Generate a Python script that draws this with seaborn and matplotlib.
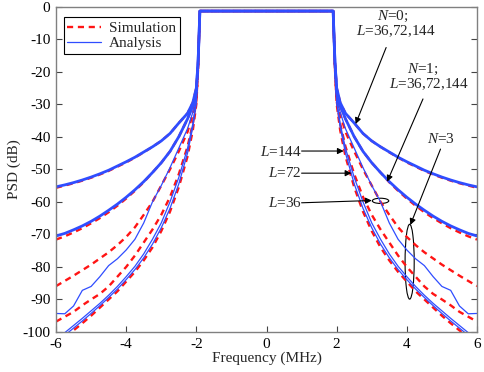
import numpy as np
import pandas as pd
import matplotlib
matplotlib.use("Agg")
import matplotlib.pyplot as plt
from matplotlib.lines import Line2D
from matplotlib.patches import Ellipse
import seaborn as sns

# ---------------- data (|f| side, mirrored) ----------------
freq_pos = [1.90, 1.92, 1.95, 2.0, 2.1, 2.25, 2.5, 2.75, 3.0, 3.25, 3.5,
            3.75, 4.0, 4.25, 4.5, 4.75, 5.0, 5.25, 5.5, 5.75, 6.0]

n0_sim = [-1.4, -8, -17, -25, -29.5, -32.8, -35.8, -39, -41.3, -43.1, -44.8,
          -46.4, -47.9, -49.2, -50.5, -51.6, -52.6, -53.5, -54.3, -55.0, -55.7]
n0_ana = [-1.4, -8, -17, -25, -29.5, -32.8, -35.8, -39, -41.3, -43.1, -44.7,
          -46.3, -47.7, -49.0, -50.3, -51.4, -52.4, -53.3, -54.1, -54.8, -55.4]
n1_sim = [-1.4, -8, -17, -26, -30.5, -34.5, -40, -44.5, -48, -51, -54.0,
          -56.6, -59.0, -61.2, -63.2, -65.0, -66.6, -68.1, -69.4, -70.6, -71.6]
n1_ana = [-1.4, -8, -17, -26, -30.5, -34.5, -40, -44.5, -48, -51, -53.8,
          -56.3, -58.6, -60.7, -62.6, -64.4, -66.0, -67.4, -68.6, -69.7, -70.5]
n3_l36_sim = [-1.4, -8, -18, -28, -33, -38.5, -44.5, -50, -55, -60, -64,
              -67.8, -70.8, -73.3, -75.5, -77.4, -79.3, -81.0, -82.7, -84.3, -85.9]
n3_l36_ana = [-1.4, -8, -18, -28, -32.5, -37.5, -43.5, -49.5, -55, -60, -66.5,
              -71.5, -74.8, -77.5, -79.6, -83.0, -86.0, -87.2, -92.0, -94.4, -94.3]
n3_l72_sim = [-1.4, -8, -19, -29, -36, -43, -51.5, -58.5, -64, -68.5, -72.5,
              -76.5, -80.0, -83.0, -86.0, -88.3, -90.0, -91.8, -93.8, -95.3, -96.8]
n3_l72_ana = [-1.4, -8, -18, -29, -36, -43.5, -52.5, -60, -66.5, -71.5, -76,
              -79.8, -83.0, -86.0, -88.7, -91.2, -93.5, -95.8, -98.0, -100.2, -102]
n3_l144_sim = [-1.4, -8, -19, -30, -38, -46, -55.5, -63, -69, -74, -78,
               -81.5, -84.5, -87.5, -90.0, -92.5, -95.0, -97.3, -99.5, -101.5, -103]
n3_l144_ana = [-1.4, -8, -18, -29.5, -37, -45, -54.5, -62, -68, -73, -77.2,
               -80.8, -83.9, -86.8, -89.4, -91.9, -94.3, -96.6, -98.8, -101, -103]

x_ticks = [-6, -4, -2, 0, 2, 4, 6]
y_ticks = [0, -10, -20, -30, -40, -50, -60, -70, -80, -90, -100]

sim_curves = [n0_sim, n1_sim, n3_l36_sim, n3_l72_sim, n3_l144_sim]
ana_curves = [n0_ana, n1_ana, n3_l36_ana, n3_l72_ana, n3_l144_ana]
ana_widths = [2.0, 2.0, 0.9, 0.9, 0.9]


def full_curve(vals):
    fp = np.array(freq_pos)
    v = np.array(vals, dtype=float)
    f = np.concatenate([-fp[::-1], fp])
    y = np.concatenate([v[::-1], v])
    return f, y


# ---------------- style ----------------
sns.set_theme(style="white")
plt.rcParams["font.family"] = ["Liberation Serif", "DejaVu Serif"]
plt.rcParams["mathtext.fontset"] = "custom"
plt.rcParams["mathtext.rm"] = "Liberation Serif"
plt.rcParams["mathtext.it"] = "Liberation Serif:italic"
plt.rcParams["axes.unicode_minus"] = False

RED = "#ff1414"
BLUE = "#2f4dff"
FS = 11

fig = plt.figure(figsize=(4.85, 3.72), dpi=100)
ax = fig.add_axes([0.1155, 0.1075, 0.868, 0.8750])

for vals in sim_curves:
    f, y = full_curve(vals)
    sns.lineplot(x=f, y=y, ax=ax, color=RED, lw=1.7, sort=False,
                 estimator=None)
    ax.lines[-1].set_dashes((2.6, 2.0))
for vals, w in zip(ana_curves, ana_widths):
    f, y = full_curve(vals)
    sns.lineplot(x=f, y=y, ax=ax, color=BLUE, lw=w, sort=False,
                 estimator=None)

ax.set_xlim(-6, 6)
ax.set_ylim(-100, 0)
ax.set_xticks(x_ticks)
ax.set_xticklabels([str(t) for t in x_ticks])
ax.set_yticks(y_ticks)
ax.set_yticklabels([str(t) for t in y_ticks])
ax.tick_params(direction="in", length=4, width=0.8, colors="#444444",
               labelcolor="black", labelsize=FS, right=True, left=True,
               bottom=True, top=False, pad=4)
for s in ax.spines.values():
    s.set_color("#808080")
    s.set_linewidth(1.0)

ax.set_xlabel("Frequency (MHz)", fontsize=FS, labelpad=1)
ax.set_ylabel("PSD (dB)", fontsize=FS, labelpad=1)

handles = [Line2D([], [], color=RED, lw=1.7, dashes=(2.6, 2.0)),
           Line2D([], [], color=BLUE, lw=0.9)]
leg = ax.legend(handles, ["Simulation", "Analysis"], loc="upper left",
                bbox_to_anchor=(0.0, 0.99), fontsize=FS, frameon=True,
                fancybox=False, edgecolor="black", framealpha=1,
                handlelength=2.2, borderpad=0.25, labelspacing=0.1,
                handletextpad=0.5, borderaxespad=0.5)
leg.get_frame().set_linewidth(0.8)

# ---------------- annotations ----------------
arrow = dict(arrowstyle="-|>", color="black", lw=0.8, mutation_scale=9,
             shrinkA=0, shrinkB=0)
ax.text(3.59, -2.9, r"$N$=0;", ha="center", va="center", fontsize=FS)
ax.text(3.70, -7.6, r"$L$=36,72,144", ha="center", va="center", fontsize=FS)
ax.annotate("", xy=(2.54, -36.1), xytext=(3.41, -12.6), arrowprops=arrow)

ax.text(4.46, -19.3, r"$N$=1;", ha="center", va="center", fontsize=FS)
ax.text(4.63, -24.0, r"$L$=36,72,144", ha="center", va="center", fontsize=FS)
ax.annotate("", xy=(3.44, -53.8), xytext=(4.46, -28.4), arrowprops=arrow)

ax.text(4.96, -40.8, r"$N$=3", ha="center", va="center", fontsize=FS)
ax.annotate("", xy=(4.1, -67.1), xytext=(4.96, -43.8), arrowprops=arrow)
ax.add_patch(Ellipse((4.08, -78.4), 0.26, 23, fill=False, ec="black", lw=0.8))

ax.text(1.0, -44.6, r"$L$=144", ha="right", va="center", fontsize=FS)
ax.annotate("", xy=(2.2, -44.4), xytext=(1.0, -44.4), arrowprops=arrow)
ax.text(1.0, -51.2, r"$L$=72", ha="right", va="center", fontsize=FS)
ax.annotate("", xy=(2.42, -51.2), xytext=(1.0, -51.2), arrowprops=arrow)
ax.text(1.0, -60.5, r"$L$=36", ha="right", va="center", fontsize=FS)
ax.annotate("", xy=(3.0, -59.6), xytext=(1.0, -60.3), arrowprops=arrow)
ax.add_patch(Ellipse((3.25, -59.7), 0.47, 1.6, fill=False, ec="black", lw=0.8))

fig.savefig("out.png", dpi=100)
